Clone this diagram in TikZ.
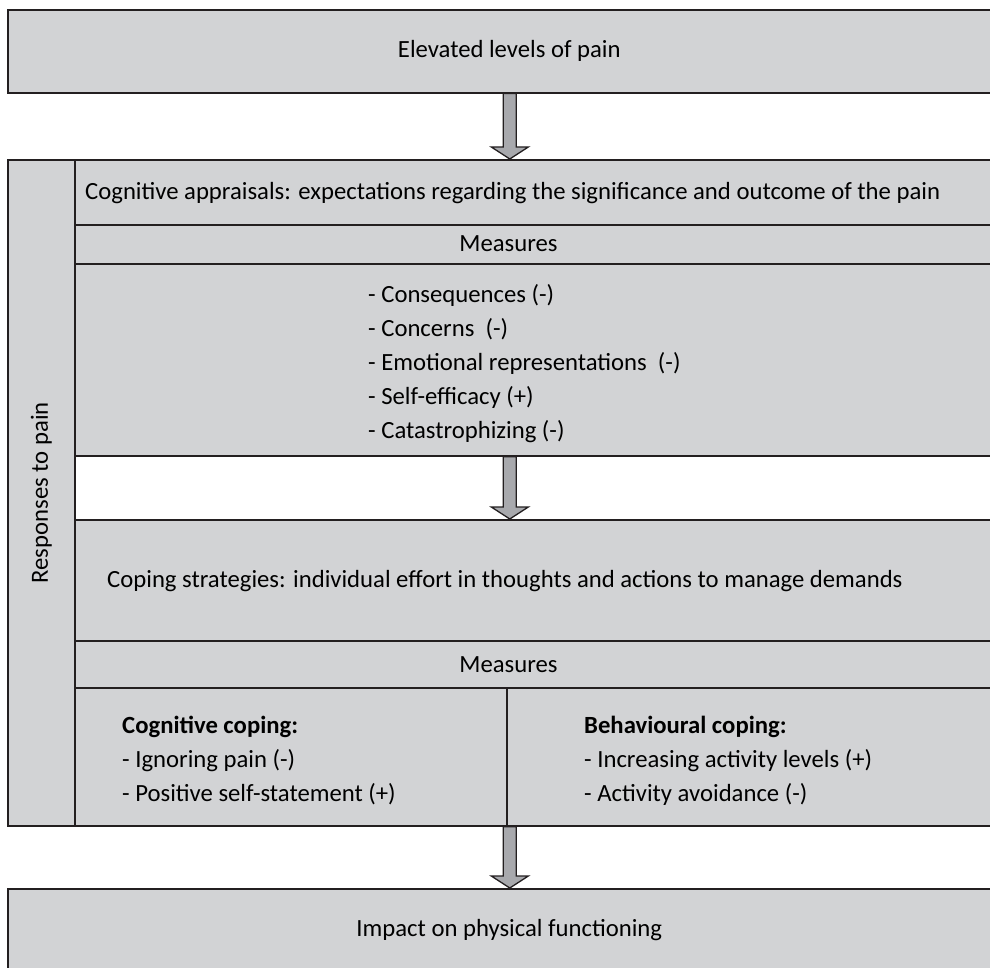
\documentclass[tikz,border=0pt]{standalone}
\usepackage{fontspec}
\setmainfont{Carlito}
\usetikzlibrary{calc}
\definecolor{boxgray}{RGB}{210,211,213}
\definecolor{arrowgray}{RGB}{168,169,173}
\definecolor{edgegray}{RGB}{35,31,32}

% block arrow between two named points
\newcommand{\bigarrow}[2]{%
  \draw[blockarrow] ($(#1)+(-6.5,0)$) -- ($(#2)+(-6.5,-12)$) -- ($(#2)+(-18.5,-12)$)
    -- (#2) -- ($(#2)+(18.5,-12)$) -- ($(#2)+(6.5,-12)$) -- ($(#1)+(6.5,0)$) -- cycle;}

\begin{document}
\begin{tikzpicture}[
  x=1pt, y=-1pt,
  font=\fontsize{24.7}{34}\selectfont,
  box/.style={draw=edgegray, line width=1.6pt, fill=boxgray, anchor=north west, inner sep=0pt},
  label/.style={inner sep=0pt, align=left},
  blockarrow/.style={draw=edgegray, line width=1.3pt, fill=arrowgray, line join=miter}
]
\useasboundingbox (0,0) rectangle (990,968);

\node[box, minimum width=1003, minimum height=83] (pain) at (7,9) {Elevated levels of pain};

% responses to pain
\node[box, minimum width=67, minimum height=666] (resp) at (7,159) {};
\node[label, rotate=90] (resptext) at (resp.center) {Responses to pain};
\node[box, minimum width=936, minimum height=65] (appraisal) at (74,159) {};
\node[box, minimum width=936, minimum height=39] (meas1) at (74,224) {};
\node[box, minimum width=936, minimum height=192] (list) at (74,263) {};
\node[box, fill=white, minimum width=936, minimum height=64] (gap) at (74,455) {};
\node[box, minimum width=936, minimum height=121] (coping) at (74,519) {};
\node[box, minimum width=936, minimum height=47] (meas2) at (74,640) {};
\node[box, minimum width=432, minimum height=138] (cogbox) at (74,687) {};
\node[box, minimum width=504, minimum height=138] (behbox) at (506,687) {};

\node[label, anchor=west] (apptext) at (85,193)
  {Cognitive appraisals: expectations regarding the significance and outcome of the pain};
\node[label] (meas1text) at (508.5,244) {Measures};
\node[label, anchor=west] (listtext) at (368,364)
  {- Consequences (-)\\- Concerns~ (-)\\- Emotional representations~ (-)\\- Self-efficacy (+)\\- Catastrophizing (-)};
\node[label, anchor=west] (copetext) at (107,581)
  {Coping strategies: individual effort in thoughts and actions to manage demands};
\node[label] (meas2text) at (508.5,665) {Measures};
\node[label, anchor=west] (cogtext) at (122,761)
  {\textbf{Cognitive coping:}\\- Ignoring pain (-)\\- Positive self-statement (+)};
\node[label, anchor=west] (behtext) at (584,761)
  {\textbf{Behavioural coping:}\\- Increasing activity levels (+)\\- Activity avoidance (-)};

\node[box, minimum width=1003, minimum height=82] (impact) at (7,888) {Impact on physical functioning};

% arrows
\coordinate (axis) at (509.8,0);
\coordinate (a1) at (pain.south -| axis);
\coordinate (b1) at (appraisal.north -| axis);
\coordinate (a2) at (list.south -| axis);
\coordinate (b2) at (coping.north -| axis);
\coordinate (a3) at (cogbox.south -| axis);
\coordinate (b3) at (impact.north -| axis);
\bigarrow{a1}{b1}
\bigarrow{a2}{b2}
\bigarrow{a3}{b3}
\end{tikzpicture}
\end{document}
